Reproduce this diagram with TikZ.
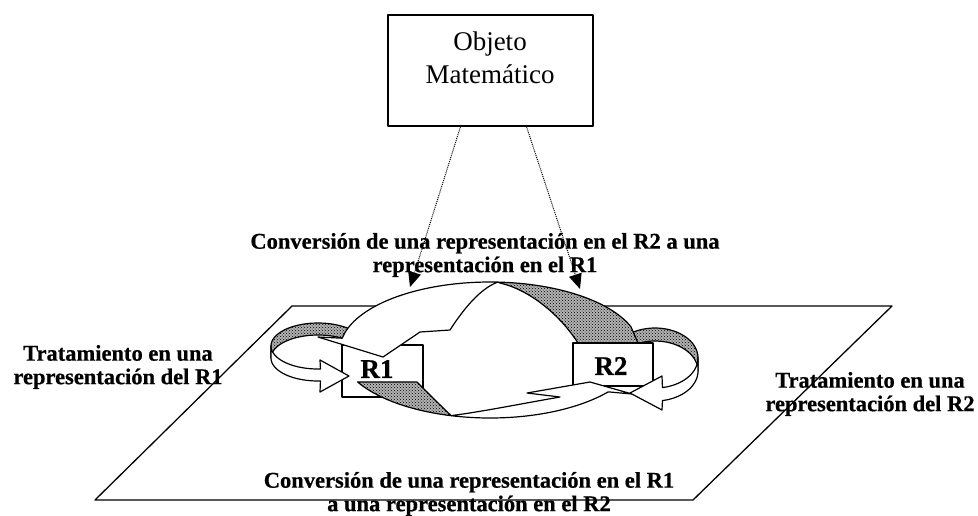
\documentclass[tikz,border=0pt]{standalone}
\usepackage{fontspec}
\setmainfont{Liberation Serif}
\newfontfamily\heavyfont{Liberation Serif Bold}[FakeBold=0.6]
\usetikzlibrary{patterns,arrows.meta}
\begin{document}
\begin{tikzpicture}[x=1pt,y=-1pt,line join=round,
  lbl/.style={font=\fontsize{22.5}{23.5}\heavyfont,align=center,inner sep=0pt},
  objbox/.style={draw,line width=1.3pt,minimum width=205pt,minimum height=111pt,inner sep=0pt},
  objtxt/.style={font=\fontsize{27}{33}\selectfont,align=center,inner sep=0pt},
  plane/.style={line width=1.3pt},
  rbox/.style={draw,fill=white,line width=1.1pt,inner sep=0pt},
  rtxt/.style={font=\fontsize{27}{28}\heavyfont,inner sep=0pt},
  ribbon/.style={draw,fill=white,line width=1.2pt},
  hatch/.style={draw,line width=1.2pt,fill=gray!60,postaction={pattern=crosshatch dots,pattern color=black}},
  dasharrow/.style={densely dotted,line width=1pt,-{Triangle[length=15pt,width=13pt]}}]
\useasboundingbox (0,0) rectangle (978,515);

% plane
\draw[plane] (292,306) -- (892,306) -- (693,500) -- (95,500) -- cycle;

% interior of big ring
\fill[white] (490,350) ellipse[x radius=150,y radius=68];

% left ring back (hatched)
\path[hatch] plot[domain=50:180,samples=40,variable=\t] ({318+47*cos(\t)},{346-23*sin(\t)})
  -- plot[domain=180:50,samples=40,variable=\t] ({318+47*cos(\t)},{358-23*sin(\t)}) -- cycle;
% right ring back (hatched)
\path[hatch] plot[domain=130:0,samples=40,variable=\t] ({655+43*cos(\t)},{358-30*sin(\t)})
  -- plot[domain=0:130,samples=40,variable=\t] ({655+43*cos(\t)},{371-30*sin(\t)}) -- cycle;

% upper hatched crescent
\path[hatch] plot[domain=87:20,samples=40,variable=\t] ({490+150*cos(\t)},{350-68*sin(\t)})
  -- (638,343) -- (578,343) .. controls (560,315) and (530,290) .. (500,283) -- cycle;

% boxes
\node[rbox,minimum width=81pt,minimum height=52pt] (r1) at (382.5,371) {};
\node[rbox,minimum width=80pt,minimum height=43pt] (r2) at (613,364.5) {};
\node[rtxt] (r1t) at (377,369) {R1};
\node[rtxt] (r2t) at (611,366) {R2};

% upper white arrow (R2 -> R1)
\path[ribbon] plot[domain=87:170,samples=40,variable=\t] ({490+150*cos(\t)},{350-68*sin(\t)})
  -- (318,337) -- (383,357) -- (420,332) -- (450,330)
  .. controls (468,302) and (484,287) .. (498,282) -- cycle;

% lower hatched crescent
\path[hatch] plot[domain=208:255,samples=30,variable=\t] ({490+150*cos(\t)},{350-68*sin(\t)})
  .. controls (440,405) and (425,390) .. (417,382) -- cycle;

% lower white arrow (R1 -> R2)
\path[ribbon] plot[domain=255:322,samples=40,variable=\t] ({490+150*cos(\t)},{350-68*sin(\t)})
  -- (632,394) -- (590,382) -- (527,393) -- (560,397)
  .. controls (520,404) and (480,412) .. (452,415.5) -- cycle;

% left ring front arrow
\path[ribbon] plot[domain=180:273,samples=40,variable=\t] ({318+47*cos(\t)},{346-23*sin(\t)})
  -- (320,360) -- (349,376) -- (320,392)
  -- plot[domain=273:180,samples=40,variable=\t] ({318+47*cos(\t)},{358-23*sin(\t)}) -- cycle;

% right ring front arrow
\path[ribbon] plot[domain=0:-80,samples=40,variable=\t] ({655+43*cos(\t)},{358-30*sin(\t)})
  -- (662,376) -- (630,393) -- (662,410)
  -- plot[domain=-80:0,samples=40,variable=\t] ({655+43*cos(\t)},{371-30*sin(\t)}) -- cycle;

% object box
\node[objbox] (obj) at (490.5,70.5) {};
\node[objtxt] (objt) at (490,58) {Objeto\\Matemático};

% dashed arrows
\coordinate (h1) at (410,287);
\coordinate (h2) at (580,289);
\draw[dasharrow] ([xshift=-30pt]obj.south) -- (h1);
\draw[dasharrow] ([xshift=36pt]obj.south) -- (h2);

% labels
\node[lbl] (ltop) at (485,255) {Conversión de una representación en el R2 a una\\representación en el R1};
\node[lbl] (lleft) at (118,367) {Tratamiento en una\\representación del R1};
\node[lbl] (lright) at (870,394) {Tratamiento en una\\representación del R2};
\node[lbl] (lbot) at (469,494) {Conversión de una representación en el R1\\a una representación en el R2};
\end{tikzpicture}
\end{document}
